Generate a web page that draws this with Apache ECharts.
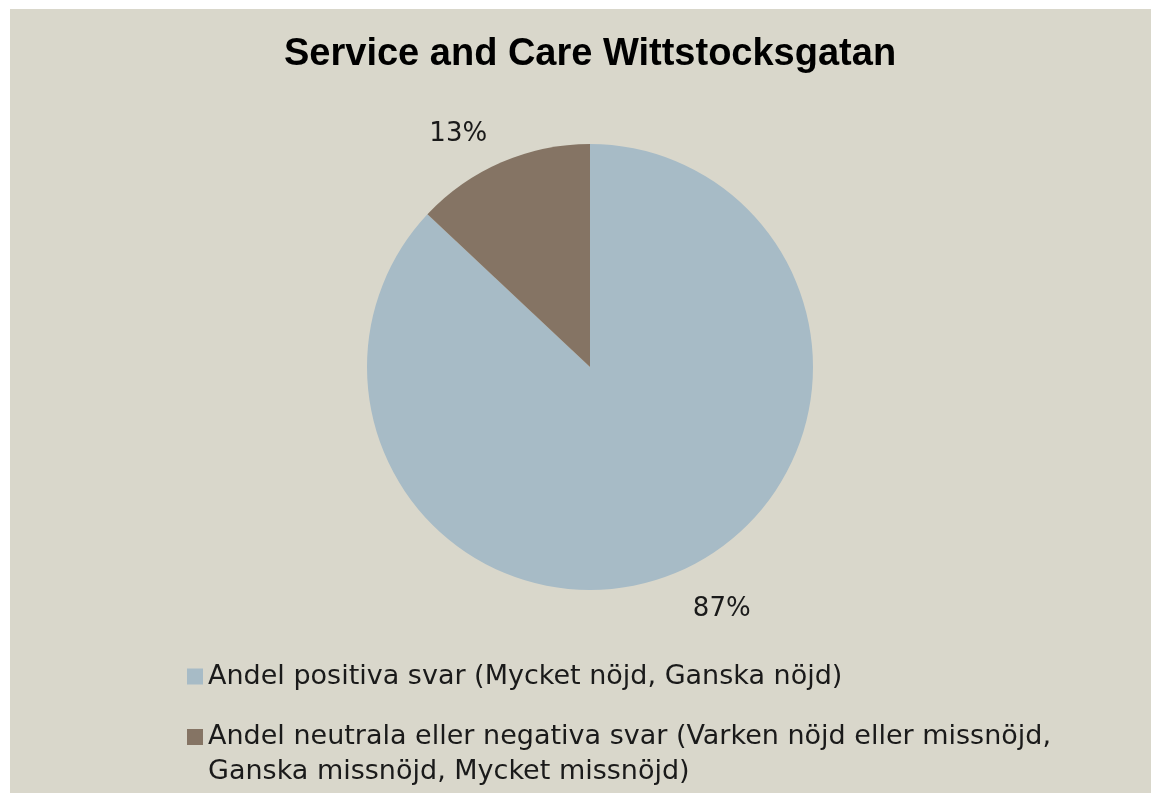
<!DOCTYPE html>
<html>
<head>
<meta charset="utf-8">
<script src="https://cdn.jsdelivr.net/npm/echarts@6/dist/echarts.min.js"></script>
<style>
  html, body { margin: 0; padding: 0; background: #ffffff; }
  #main { position: absolute; left: 10px; top: 9px; width: 1141px; height: 784px; }
</style>
</head>
<body>
<div id="main"></div>
<script>
// data
var titleText = "Service and Care Wittstocksgatan";
var categories = [
  "Andel positiva svar (Mycket nöjd, Ganska nöjd)",
  "Andel neutrala eller negativa svar (Varken nöjd eller missnöjd, Ganska missnöjd, Mycket missnöjd)"
];
var shares = [87, 13];
var colors = ["#A7BBC6", "#857464"];

var legendText = {
  fontFamily: "DejaVu Sans",
  fontSize: 27,
  lineHeight: 35,
  color: "#1a1a1a"
};

var chart = echarts.init(document.getElementById("main"));
chart.setOption({
  backgroundColor: "#D9D7CB",
  color: colors,
  title: {
    text: titleText,
    left: 274,
    top: 27,
    padding: 0,
    textStyle: {
      fontFamily: "Liberation Sans",
      fontWeight: "bold",
      fontSize: 38,
      color: "#000000"
    }
  },
  legend: [
    {
      data: [categories[0]],
      orient: "vertical",
      left: 177,
      top: 650,
      padding: 0,
      itemWidth: 16,
      itemHeight: 16,
      icon: "rect",
      textStyle: legendText
    },
    {
      // wraps onto two lines; empty first row keeps the marker on line one
      data: [categories[1]],
      orient: "vertical",
      left: 177,
      top: 675.5,
      padding: 0,
      itemWidth: 16,
      itemHeight: 16,
      icon: "rect",
      formatter: function (name) {
        return "\n" + name.replace(", Ganska", ",\nGanska");
      },
      textStyle: legendText
    }
  ],
  series: [
    {
      type: "pie",
      center: [580, 358],
      radius: 223,
      startAngle: 90,
      clockwise: true,
      avoidLabelOverlap: false,
      silent: true,
      label: {
        show: true,
        position: "outside",
        // small spacer row pushes the value a few px down
        formatter: "{s| }\n{v|{c}%}",
        distanceToLabelLine: 0,
        rich: {
          s: { fontSize: 6, lineHeight: 10 },
          v: {
            fontFamily: "DejaVu Sans",
            fontSize: 26,
            lineHeight: 30,
            color: "#1a1a1a"
          }
        }
      },
      labelLine: {
        show: false,
        length: 36,
        length2: 0
      },
      data: categories.map(function (name, i) {
        return { name: name, value: shares[i] };
      })
    }
  ]
});
</script>
</body>
</html>
